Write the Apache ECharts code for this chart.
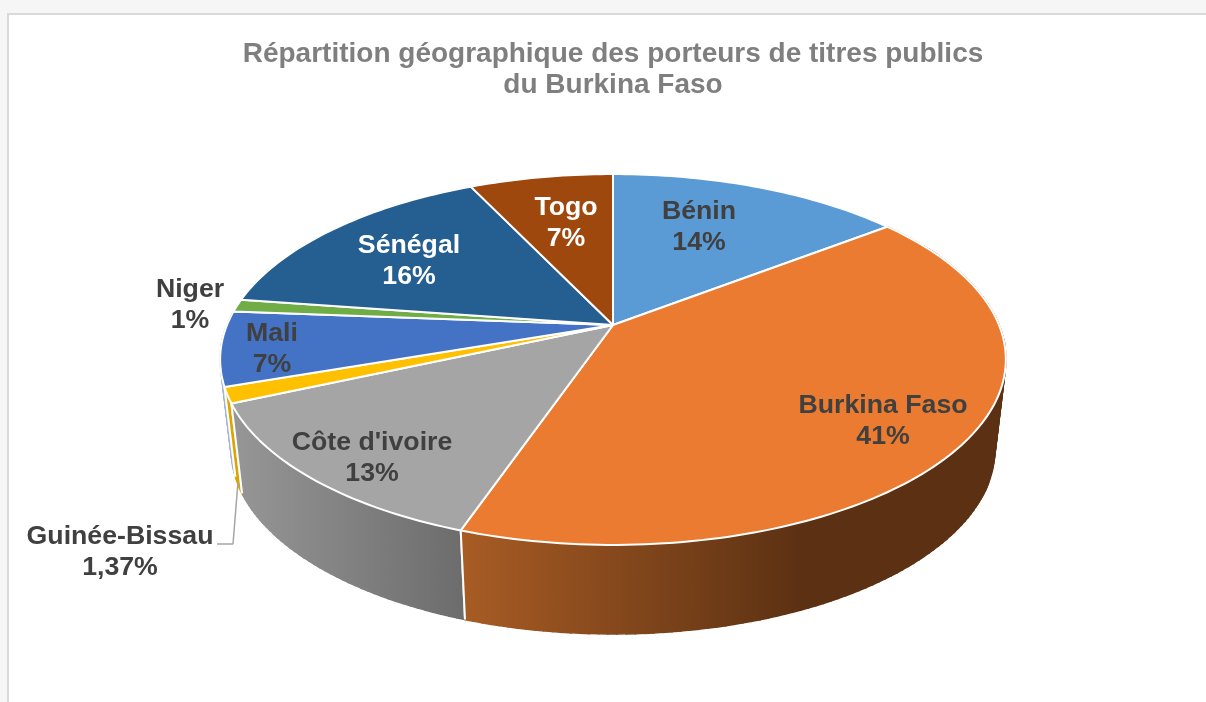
<!DOCTYPE html>
<html lang="fr">
<head>
<meta charset="utf-8">
<title>Répartition géographique</title>
<style>html,body{margin:0;padding:0;background:#f6f6f7}#c{width:1206px;height:702px}</style>
<script src="https://cdn.jsdelivr.net/npm/echarts@6/dist/echarts.min.js"></script>
</head>
<body>
<div id="c"></div>
<script>
// ---- data ----
const categories = ['Bénin', 'Burkina Faso', "Côte d'ivoire", 'Guinée-Bissau', 'Mali', 'Niger', 'Sénégal', 'Togo'];
const shares = [14.54, 40.73, 13.08, 1.37, 6.5, 1.1, 15.6, 7.08];
const shareLabels = ['14%', '41%', '13%', '1,37%', '7%', '1%', '16%', '7%'];
const titleText = 'Répartition géographique des porteurs de titres publics\ndu Burkina Faso';

// ---- style and layout ----
const faceColors = ['#5b9bd5', '#ea7b30', '#a5a5a5', '#ffc000', '#4472c4', '#70ad47', '#255e91', '#9e480e'];
const wallStops = [
  null,
  { from: 461, to: 800, c0: '#a85c24', c1: '#5c3113' },
  { from: 235, to: 465, c0: '#969696', c1: '#6c6c6c' },
  { from: 225, to: 240, c0: '#dba500', c1: '#dba500' },
  { from: 215, to: 240, c0: '#9db5dc', c1: '#9db5dc' },
  null, null, null
];
const wallOrder = [0, 7, 6, 5, 4, 3, 2, 1];
const labelPlaces = [[699, 212], [883, 406], [372, 443], [120, 537], [272, 334], [190, 290], [409, 246], [566, 208]];
const labelColors = ['#404040', '#404040', '#404040', '#404040', '#404040', '#404040', '#ffffff', '#ffffff'];
const LINE_GAP = 31;
const LABEL_FONT = 'bold 26.7px "Liberation Sans", Arial, sans-serif';
const leader = [[238, 482], [233, 544], [217, 544]];
// Perspective view of the disc: centre, scale, tilt, and the lower rim's offset
const CX = 613, CY = 325, BX = 386, AY = 179, K = 0.186;
const RIM_SHRINK = 0.972, RIM_SHIFT = 90, ELLIPSE_MID = 35;

const total = shares.reduce((a, b) => a + b, 0);
const bounds = [0];
shares.forEach((v, i) => bounds.push(bounds[i] + v / total * Math.PI * 2));

function top3d(t) {
  const u = Math.sin(t), v = Math.cos(t), d = 1 + K * v;
  return [BX * u / d, -AY * v / d];
}
function bottom3d(t) {
  const p = top3d(t);
  return [p[0] * RIM_SHRINK, ELLIPSE_MID + RIM_SHIFT + (p[1] - ELLIPSE_MID) * 0.995];
}
function arcSteps(i) { return Math.max(4, Math.ceil((bounds[i + 1] - bounds[i]) / 0.02)); }

function renderWall(params, api) {
  const i = wallOrder[api.value(0)];
  const st = wallStops[i];
  if (!st) return { type: 'group', children: [] };
  const toPx = (p) => api.coord([CX + p[0], CY + p[1]]);
  const n = arcSteps(i), kids = [];
  const fill = new echarts.graphic.LinearGradient(st.from, 0, st.to, 0,
    [{ offset: 0, color: st.c0 }, { offset: 1, color: st.c1 }], true);
  for (let k = 0; k < n; k++) {
    const a = bounds[i] + (bounds[i + 1] - bounds[i]) * k / n;
    const b = bounds[i] + (bounds[i + 1] - bounds[i]) * (k + 1) / n;
    kids.push({
      type: 'polygon',
      shape: { points: [top3d(a), top3d(b), bottom3d(b), bottom3d(a)].map(toPx) },
      style: { fill: fill, stroke: fill, lineWidth: 1.5 }
    });
  }
  [bounds[i], bounds[i + 1]].forEach((a) => {
    kids.push({
      type: 'polyline',
      shape: { points: [top3d(a), bottom3d(a)].map(toPx) },
      style: { fill: null, stroke: '#ffffff', lineWidth: 2 }
    });
  });
  return { type: 'group', children: kids };
}

function renderFace(params, api) {
  const i = api.value(0);
  const n = arcSteps(i), pts = [[0, 0]];
  for (let k = 0; k <= n; k++) pts.push(top3d(bounds[i] + (bounds[i + 1] - bounds[i]) * k / n));
  return {
    type: 'polygon',
    shape: { points: pts.map((p) => api.coord([CX + p[0], CY + p[1]])) },
    style: { fill: faceColors[i], stroke: '#ffffff', lineWidth: 2, lineJoin: 'round' }
  };
}

function renderLabel(params, api) {
  const i = api.value(0), p = labelPlaces[i];
  const mk = (txt, y) => ({
    type: 'text',
    style: { x: p[0], y: y, text: txt, fill: labelColors[i], font: LABEL_FONT, align: 'center', verticalAlign: 'middle' }
  });
  return { type: 'group', children: [mk(categories[i], p[1]), mk(shareLabels[i], p[1] + LINE_GAP)] };
}

const ids = shares.map((_, i) => [i, 0]);
const chart = echarts.init(document.getElementById('c'), null, { renderer: 'canvas', width: 1206, height: 702 });
chart.setOption({
  animation: false,
  backgroundColor: '#f6f6f7',
  title: {
    text: titleText, left: 608, top: 34, textAlign: 'center',
    textStyle: { fontFamily: '"Liberation Sans", Arial, sans-serif', fontSize: 28, fontWeight: 'bold', color: '#7f7f7f', lineHeight: 31 }
  },
  grid: { left: 0, right: 0, top: 0, bottom: 0 },
  xAxis: { type: 'value', min: 0, max: 1206, show: false },
  yAxis: { type: 'value', min: 0, max: 702, inverse: true, show: false },
  graphic: [{
    type: 'rect', z: -10, silent: true,
    shape: { x: 8, y: 14, width: 1220, height: 720 },
    style: { fill: '#ffffff', stroke: '#d9d9d9', lineWidth: 2 }
  }],
  series: [
    { type: 'custom', name: 'parois', renderItem: renderWall, data: ids, clip: false, silent: true, z: 2 },
    { type: 'custom', name: 'parts', renderItem: renderFace, data: ids, clip: false, silent: true, z: 3 },
    {
      type: 'line', name: 'repère', data: leader, showSymbol: false, silent: true, z: 4,
      lineStyle: { color: '#a6a6a6', width: 1.5 }
    },
    { type: 'custom', name: 'étiquettes', renderItem: renderLabel, data: ids, clip: false, silent: true, z: 5 }
  ]
});
</script>
</body>
</html>
